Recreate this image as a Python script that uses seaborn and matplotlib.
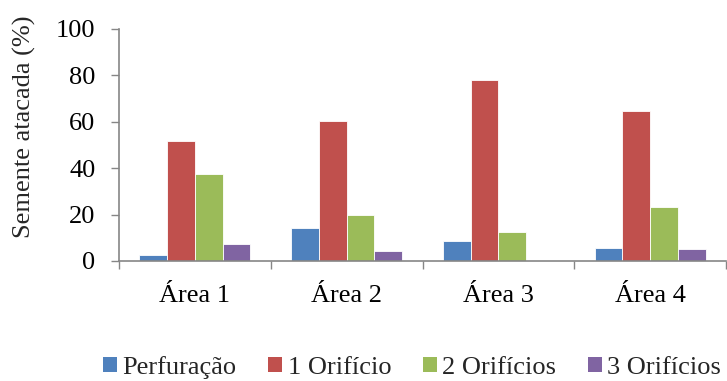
import matplotlib
matplotlib.use("Agg")
import matplotlib.pyplot as plt
from matplotlib.patches import Patch
import numpy as np
import pandas as pd
import seaborn as sns

areas = ["Área 1", "Área 2", "Área 3", "Área 4"]
series = ["Perfuração", "1 Orifício", "2 Orifícios", "3 Orifícios"]
perfuracao = [2.4, 14.1, 8.5, 5.6]
um_orificio = [51.6, 60.5, 77.9, 64.7]
dois_orificios = [37.3, 20.0, 12.6, 23.4]
tres_orificios = [7.2, 4.3, 0.0, 5.2]
colors = ["#4F81BD", "#C0504D", "#9BBB59", "#8064A2"]

values = [perfuracao, um_orificio, dois_orificios, tres_orificios]
df = pd.DataFrame(
    [(a, s, v[i]) for s, v in zip(series, values) for i, a in enumerate(areas)],
    columns=["area", "serie", "valor"],
)

sns.set_theme(style="white")
plt.rcParams["font.family"] = ["Liberation Serif", "DejaVu Serif"]

fig = plt.figure(figsize=(7.27, 3.81), dpi=100)
ax = fig.add_axes([0.1637, 0.315, 0.835, 0.609])

sns.barplot(
    data=df, x="area", y="valor", hue="serie", order=areas, hue_order=series,
    palette=colors, saturation=1, width=0.73, gap=0, edgecolor="white",
    linewidth=0.6, ax=ax, legend=False,
)

ax.set_xlim(-0.5, 3.5)
ax.set_ylim(0, 100)
ax.set_yticks(np.arange(0, 101, 20))
ax.tick_params(axis="y", labelsize=19, length=6, width=1, color="#868686",
               direction="out", left=True, pad=11, labelcolor="black")
ax.set_xticks(range(len(areas)))
ax.set_xticklabels(areas, fontsize=19)
ax.tick_params(axis="x", which="major", length=0, pad=17, labelcolor="black")
ax.set_xticks(np.arange(-0.5, 3.6, 1), minor=True)
ax.tick_params(axis="x", which="minor", length=6, width=1, color="#868686",
               direction="out", bottom=True)
ax.set_xlabel("")
ax.set_ylabel("Semente atacada (%)", fontsize=19)
ax.yaxis.set_label_coords(-0.137, 0.58)

for side in ["top", "right"]:
    ax.spines[side].set_visible(False)
for side in ["left", "bottom"]:
    ax.spines[side].set_color("#868686")
    ax.spines[side].set_linewidth(1.2)

handles = [Patch(facecolor=c, edgecolor="none") for c in colors]
fig.legend(handles, series, loc="center", bbox_to_anchor=(0.567, 0.036),
           ncol=4, frameon=False, fontsize=19, handlelength=0.53,
           handleheight=0.53, handletextpad=0.2, columnspacing=1.2,
           borderpad=0, borderaxespad=0)

fig.savefig("out.png", dpi=100)
